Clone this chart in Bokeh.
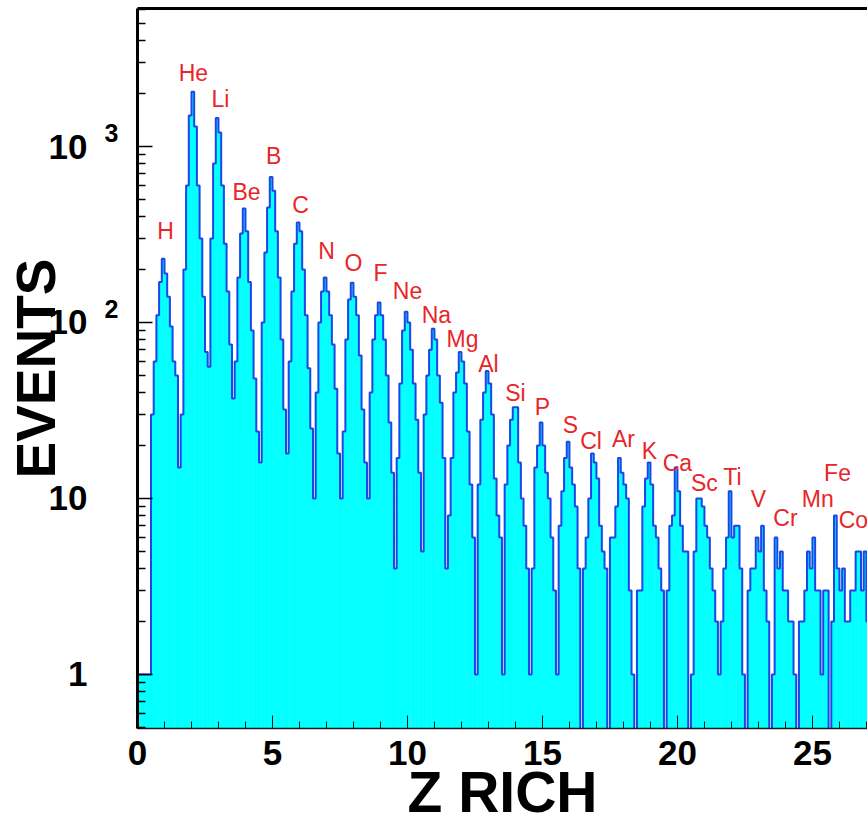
from bokeh.plotting import figure
from bokeh.models import (Range1d, LinearAxis, LogAxis, LogScale, SingleIntervalTicker,
                          FixedTicker, ColumnDataSource)
from bokeh.core.properties import value
from bokeh.embed import file_html
from bokeh.resources import INLINE

# ---------------- data ----------------
bin_width = 0.1
# event counts per 0.1-wide Z bin, starting at Z = 0
counts = [
    1, 1, 1, 1, 1, 30, 60, 110, 170, 230,            # 0.0 - 1.0
    190, 140, 95, 60, 50, 15, 30, 200, 600, 1500,    # 1.0 - 2.0
    2050, 1300, 600, 300, 140, 68, 56, 300, 800, 1450,
    1200, 600, 280, 150, 75, 37, 60, 180, 320, 445,
    330, 170, 90, 48, 24, 16, 100, 250, 450, 670,
    560, 330, 180, 80, 32, 18, 60, 150, 280, 370,
    330, 200, 110, 55, 25, 10, 40, 100, 150, 180,
    150, 110, 75, 42, 18, 10, 24, 80, 135, 168,
    140, 110, 65, 32, 16, 10, 40, 80, 110, 130,
    110, 80, 50, 27, 14, 4, 17, 45, 90, 115,
    100, 70, 45, 28, 14, 5, 30, 50, 70, 92,
    80, 50, 35, 17, 4, 8, 17, 40, 52, 68,
    60, 45, 24, 12, 6, 1, 12, 28, 40, 53,
    45, 30, 13, 8, 6, 1, 12, 20, 28, 33,
    33, 16, 10, 7, 4, 1, 4, 15, 20, 27,
    20, 14, 10, 6, 3, 1, 7, 11, 17, 21,
    15, 12, 9, 4, 0, 4, 6, 10, 18, 16,
    13, 7, 5, 4, 0, 6, 6, 9, 17, 14,
    12, 10, 3, 1, 0, 3, 3, 9, 13, 16,
    12, 7, 6, 4, 3, 0, 3, 7, 8, 15,
    11, 7, 5, 5, 0, 1, 5, 10, 10, 9,
    7, 6, 4, 3, 2, 1, 2, 4, 6, 11,
    6, 7, 7, 4, 1, 0, 3, 4, 4, 6,
    5, 7, 3, 2, 0, 1, 6, 4, 5, 3,
    3, 2, 2, 1, 0, 2, 2, 3, 5, 4,
    6, 3, 3, 1, 3, 3, 0, 2, 8, 4,
    3, 4, 2, 2, 3, 3, 5, 5, 3, 5,
    2,
]

elements = ["H", "He", "Li", "Be", "B", "C", "N", "O", "F", "Ne", "Na", "Mg", "Al",
            "Si", "P", "S", "Cl", "Ar", "K", "Ca", "Sc", "Ti", "V", "Cr", "Mn", "Fe", "Co"]
# label anchor positions (Z, events)
label_x = [1.04, 2.07, 3.07, 4.04, 5.04, 6.04, 7.0, 8.0, 9.0, 10.0, 11.07, 12.04, 13.0,
           14.0, 15.0, 16.04, 16.8, 18.0, 18.96, 20.0, 21.0, 22.04, 23.0, 24.0, 25.2, 25.93, 26.52]
label_y = [329, 2630, 1870, 555, 888, 468, 256, 218, 192, 151, 111, 81, 58,
           39.5, 33, 26.3, 21.1, 21.9, 18.5, 16.0, 12.2, 13.2, 9.9, 7.7, 9.9, 13.9, 7.5]

y_major = [1, 10, 100, 1000]
y_major_text = ["1", "10", "10", "10"]
y_exponent = {100: "2", 1000: "3"}

# ---------------- figure ----------------
FONT = "Liberation Sans"
floor = 0.1
edges = [i * bin_width for i in range(len(counts) + 1)]
tops = [c if c > 0 else floor for c in counts]

Y_LO, Y_HI = 0.493, 6085
SUP_SHIFT = 1.19   # raises the exponent labels ~13 px above their decade tick

p = figure(width=867, height=828,
           x_range=Range1d(0, 27.04), y_range=Range1d(Y_LO, Y_HI),
           y_axis_type="log", output_backend="svg", toolbar_location=None,
           min_border_left=137, min_border_right=0, min_border_top=8, min_border_bottom=100)
p.extra_y_ranges = {"sup": Range1d(Y_LO / SUP_SHIFT, Y_HI / SUP_SHIFT)}
p.extra_y_scales = {"sup": LogScale()}

p.xgrid.visible = False
p.ygrid.visible = False
p.outline_line_color = None
p.background_fill_color = "white"
p.border_fill_color = "white"

# histogram fill
p.quad(left=edges[:-1], right=edges[1:], bottom=floor, top=tops,
       fill_color="#00ffff", line_color="#00ffff", line_width=0.6)
# histogram outline
p.step(x=edges, y=tops + [tops[-1]], mode="after", line_color="#1e46e6", line_width=2)

# element labels
src = ColumnDataSource(dict(x=label_x, y=label_y, t=elements))
p.text(x="x", y="y", text="t", source=src, text_align="center", text_baseline="middle",
       text_color="#e8262a", text_font=value(FONT), text_font_size="23px")

# ---- x axis
xa = p.xaxis[0]
xa.ticker = SingleIntervalTicker(interval=5, num_minor_ticks=5)
xa.major_tick_in = 13
xa.major_tick_out = 0
xa.minor_tick_in = 7
xa.minor_tick_out = 0
xa.axis_line_width = 1.5
xa.axis_line_color = "#1a1a1a"
xa.major_tick_line_color = "#1a1a1a"
xa.minor_tick_line_color = "#1a1a1a"
xa.major_label_text_font = FONT
xa.major_label_text_font_style = "bold"
xa.major_label_text_font_size = "35px"
xa.major_label_text_color = "black"
xa.major_label_standoff = 12
xa.axis_label = "Z RICH"
xa.axis_label_text_font = FONT
xa.axis_label_text_font_style = "bold"
xa.axis_label_text_font_size = "57px"
xa.axis_label_text_color = "black"
xa.axis_label_standoff = -8

# ---- y axis: frame line + ticks (no text)
ya = p.yaxis[0]
minor = [m * d for d in (0.1, 1, 10, 100, 1000) for m in range(2, 10)]
ya.ticker = FixedTicker(ticks=y_major, minor_ticks=minor)
ya.major_label_overrides = {v: "" for v in y_major}
ya.major_label_standoff = 0
ya.major_tick_in = 15
ya.major_tick_out = 0
ya.minor_tick_in = 8
ya.minor_tick_out = 0
ya.axis_line_width = 3
ya.axis_line_color = "black"
ya.major_tick_line_color = "black"
ya.minor_tick_line_color = "black"
ya.major_tick_line_width = 1.5
ya.minor_tick_line_width = 1.5

# ---- exponents of 10^2, 10^3
sup_axis = LogAxis(y_range_name="sup", ticker=FixedTicker(ticks=list(y_exponent.keys())),
                   major_label_overrides=y_exponent,
                   major_tick_in=0, major_tick_out=0, minor_tick_in=0, minor_tick_out=0,
                   axis_line_color=None,
                   major_label_text_font=FONT, major_label_text_font_style="bold",
                   major_label_text_font_size="25px", major_label_text_color="black",
                   major_label_standoff=19)
p.add_layout(sup_axis, "left")

# ---- decade labels + title
lab_axis = LogAxis(ticker=FixedTicker(ticks=y_major),
                   major_label_overrides={v: t for v, t in zip(y_major, y_major_text)},
                   major_tick_in=0, major_tick_out=0, minor_tick_in=0, minor_tick_out=0,
                   axis_line_color=None,
                   major_label_text_font=FONT, major_label_text_font_style="bold",
                   major_label_text_font_size="35px", major_label_text_color="black",
                   major_label_standoff=14,
                   axis_label="EVENTS", axis_label_text_font=FONT,
                   axis_label_text_font_style="bold", axis_label_text_font_size="55px",
                   axis_label_text_color="black", axis_label_standoff=-21)
p.add_layout(lab_axis, "left")

# ---- top frame line
top_axis = LinearAxis(ticker=FixedTicker(ticks=[]), major_tick_in=0, major_tick_out=0,
                      minor_tick_in=0, minor_tick_out=0, major_label_standoff=0,
                      axis_line_width=3, axis_line_color="black")
p.add_layout(top_axis, "above")

open("out.html", "w").write(file_html(p, INLINE))
